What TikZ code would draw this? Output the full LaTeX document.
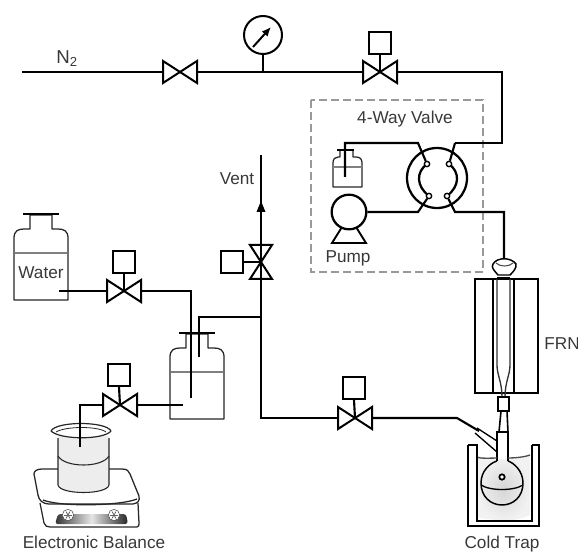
\documentclass[tikz,border=0pt]{standalone}
\usepackage{fontspec}
\setmainfont{Liberation Sans}
\usetikzlibrary{arrows.meta,calc}
\definecolor{txt}{gray}{0.22}
\tikzset{
  pipe/.style={line width=1.6pt,black,line join=miter},
  thin outline/.style={line width=0.95pt,black!85,line join=round},
  liquid/.style={line width=1.1pt,black!50},
  label/.style={text=txt,font=\fontsize{12.9pt}{14pt}\selectfont,inner sep=0pt},
  ctrl/.style={draw,line width=1.4pt,minimum width=16.5pt,minimum height=16.5pt,inner sep=0pt,fill=white},
  port/.style={draw,circle,line width=1pt,fill=white,minimum size=4pt,inner sep=0pt},
  valvebody/.pic={
    \draw[line width=1.5pt,fill=white,line join=miter] (-17,-11) -- (17,11) -- (17,-11) -- (-17,11) -- cycle;
    \coordinate (-l) at (-17,0);
    \coordinate (-r) at (17,0);
    \coordinate (-c) at (0,0);
  },
  jar/.pic={
    \draw[thin outline,fill=white] (-27,0) -- (-27,-62) .. controls (-27,-69) and (-23,-71) .. (-17,-71) -- (-11,-71) -- (-11,-85) -- (11,-85) -- (11,-71) -- (17,-71) .. controls (23,-71) and (27,-69) .. (27,-62) -- (27,0) -- cycle;
    \draw[liquid] (-26,-47) -- (26,-47);
    \draw[pipe] (-18,-86) -- (18,-86);
  },
}
\begin{document}
\begin{tikzpicture}[x=0.75pt,y=-0.75pt]
\useasboundingbox (0,0) rectangle (578,552);

% dashed box
\draw[line width=1.5pt,black!40,dash pattern=on 6pt off 3pt] (311,100) rectangle (483,272);

% cold bath
\shade[inner color=black!16,outer color=black!5] (477,456) -- (477,517) .. controls (500,522) and (515,522) .. (530,515) -- (530,456) .. controls (515,460) and (490,460) .. (477,456);

% jars
\pic at (41,300) {jar};
\pic at (197,419) {jar};

% valves
\pic (vA) at (180,72) {valvebody};
\pic (vB) at (380,72) {valvebody};
\pic (vC) at (124,291) {valvebody};
\pic (vD) at (120,405) {valvebody};
\pic (vE) at (355,418) {valvebody};
\pic[rotate=90,scale=1] (vF) at (261,262) {valvebody};

% actuator boxes
\node[ctrl] (bB) at (380,43) {};
\node[ctrl] (bC) at (124,262) {};
\node[ctrl] (bD) at (119,375) {};
\node[ctrl] (bE) at (354,388) {};
\node[ctrl] (bF) at (232,262) {};
\draw[pipe] (bB.south) -- (vB-c);
\draw[pipe] (bC.south) -- (vC-c);
\draw[pipe] (bD.south) -- (vD-c);
\draw[pipe] (bE.south) -- (vE-c);
\draw[pipe] (bF.east) -- (vF-c);

% gauge
\node[draw,circle,line width=1.5pt,minimum size=28.5pt,inner sep=0pt] (gauge) at (263,35) {};
\coordinate (gA) at (253,47);
\coordinate (gB) at (271,27);
\draw[line width=1.5pt,-{Latex[length=7pt,width=6pt]}] (gA) -- (gB);
\coordinate (jG) at (263,72);
\draw[pipe] (gauge.south) -- (jG);

% N2 feed
\coordinate (n2) at (22,72);
\draw[pipe] (n2) -- (vA-l);
\draw[pipe] (vA-r) -- (vB-l);
\coordinate (c1) at (502,72);
\coordinate (c2) at (502,143);
\coordinate (pTR) at (455,143);
\draw[pipe] (vB-r) -- (c1) -- (c2) -- (pTR);

% four-way valve
\node[draw,circle,line width=1.7pt,minimum size=45pt,inner sep=0pt] (fw) at (437,178) {};
\draw[line width=1.7pt] (427,164) .. controls (416,172) and (416,186) .. (429,196);
\draw[line width=1.7pt] (449,164) .. controls (460,172) and (460,186) .. (447,196);
\node[port] (p1) at (427,164) {};
\node[port] (p2) at (449,164) {};
\node[port] (p3) at (429,196) {};
\node[port] (p4) at (447,196) {};
\draw[pipe] (pTR) -- (p2);
\coordinate (pTL) at (418,143);
\coordinate (pBL) at (418,212);
\coordinate (pBR) at (455,212);
\coordinate (o1) at (504,212);
\coordinate (o2) at (504,258);
\draw[pipe] (p4) -- (pBR) -- (o1) -- (o2);

% small bottle
\draw[thin outline] (333,187) -- (333,163) .. controls (333,159) and (335,157) .. (338,157) -- (340,157) -- (340,150) -- (353,150) -- (353,157) -- (356,157) .. controls (360,157) and (362,159) .. (362,163) -- (362,187) -- cycle;
\draw[liquid] (333,167) -- (362,167);
\draw[line width=1.2pt] (337,150) -- (354,150);
\coordinate (b1) at (345,177);
\coordinate (b2) at (345,143);
\draw[pipe] (b1) -- (b2) -- (pTL) -- (p1);

% pump
\node[draw,circle,line width=1.7pt,minimum size=26pt,inner sep=0pt] (pump) at (349,212) {};
\coordinate (t1) at (342,227);
\coordinate (t2) at (332,243);
\coordinate (t3) at (366,243);
\coordinate (t4) at (356,227);
\draw[line width=1.4pt,line join=miter] (t1) -- (t2) -- (t3) -- (t4);
\draw[pipe] (pump.east) -- (pBL) -- (p3);

% vent
\coordinate (ventTop) at (261,155);
\coordinate (j1) at (261,317);
\coordinate (j2) at (261,418);
\draw[pipe] (ventTop) -- (vF-l);
\draw[fill=black,draw=none] (261,201) -- (265.5,212) -- (256.5,212) -- cycle;
\draw[pipe] (vF-r) -- (j1) -- (j2) -- (vE-l);
\coordinate (j3) at (199,317);
\coordinate (j4) at (199,357);
\draw[pipe] (j1) -- (j3) -- (j4);

% water lines
\coordinate (w1) at (59,291);
\coordinate (w2) at (191,291);
\coordinate (w3) at (191,398);
\draw[pipe] (w1) -- (vC-l);
\draw[pipe] (vC-r) -- (w2) -- (w3);

% beaker & balance
\draw[thin outline,fill=white] (34,474) .. controls (34,471) and (37,469) .. (42,469) -- (122,469) .. controls (127,469) and (129,471) .. (130,474) -- (139,496) .. controls (140,501) and (138,503) .. (133,504) -- (50,504) .. controls (42,504) and (39,500) .. (38,495) -- cycle;
\draw[thin outline] (40,503) -- (44,523) .. controls (45,526) and (47,527) .. (50,527) -- (137,527) .. controls (139,527) and (139,525) .. (139,523) -- (138,503);
\draw[thin outline] (43,500) .. controls (60,507) and (120,506) .. (137,499);
\shade[left color=black!80,right color=black!85,middle color=black!10,rounded corners=2pt] (55,524) -- (58,514) -- (126,514) -- (128,524) -- cycle;
\foreach \kx/\kn in {68/ka,114/kb}{
  \node[draw=black!70,circle,fill=white,minimum size=8.5pt,inner sep=0pt] (\kn) at (\kx,515) {};
  \foreach \a in {0,60,120}{\draw[black!60,line width=.6pt] (\kx,515) ++(\a:4) -- ++(\a+180:8);}
}
\fill[black!7] (58,436) -- (58,485) .. controls (60,495) and (105,495) .. (109,485) -- (109,436) -- cycle;
\draw[thin outline,line width=.8pt] (58,438) -- (58,485) .. controls (60,495) and (107,495) .. (109,485) -- (109,438);
\draw[thin outline,line width=.8pt] (58,456) .. controls (65,468) and (102,468) .. (109,456);
\draw[thin outline,line width=.9pt,fill=white] (51,431) .. controls (56,421) and (106,421) .. (111,431) .. controls (104,440) and (60,440) .. (51,431);
\draw[thin outline,line width=.6pt] (56,432) .. controls (66,426) and (98,426) .. (106,432);
\coordinate (d1) at (183,405);
\coordinate (d2) at (80,405);
\coordinate (d3) at (80,447);
\draw[pipe] (d1) -- (vD-r);
\draw[pipe] (vD-l) -- (d2) -- (d3);

% furnace
\node[draw,line width=1.3pt,minimum width=47pt,minimum height=85.5pt,inner sep=0pt] (frn) at (506.5,336) {};
\draw[line width=1.1pt] (493,279) -- (493,393) (514,279) -- (514,393);
\draw[line width=1pt,black!80] (497,279) -- (497,365) .. controls (497,375) and (502,382) .. (502,397)
  (510,279) -- (510,365) .. controls (510,375) and (505,382) .. (505,397);
% stopper
\draw[line width=1.1pt,fill=white] (498,275) .. controls (494,270) and (491,268) .. (493,264) .. controls (497,257) and (511,257) .. (516,264) .. controls (517,268) and (513,272) .. (510,275) -- cycle;
\draw[line width=.8pt,black!70] (496,263) .. controls (500,267) and (509,267) .. (513,263);
\draw[line width=1pt] (497,278) -- (510,278);

% connector
\node[draw,line width=1.1pt,minimum width=8.5pt,minimum height=10.5pt,inner sep=0pt] (joint) at (503.5,404) {};
% flask
\draw[line width=1.2pt] (501,411) -- (499,432) (507,411) -- (508,432);
\draw[line width=1.1pt] (497,461) -- (497,432) -- (508,432) -- (508,461);
\draw[line width=2.2pt] (497,432) -- (508,432);
\draw[line width=1.1pt] (497,461) .. controls (490,463) and (481,471) .. (481,483) .. controls (481,497) and (491,505) .. (502,505) .. controls (513,505) and (523,497) .. (523,483) .. controls (523,471) and (514,463) .. (508,461);
\draw[line width=1pt] (481,485) .. controls (490,491) and (514,491) .. (523,485);
\node[draw,circle,line width=1.3pt,minimum size=4pt,inner sep=0pt,fill=white] (dot) at (502,477) {};
\draw[line width=1pt] (497,441) -- (477,428) (497,452) -- (475,433);
\draw[line width=1pt,black!70] (476,457) .. controls (482,459) and (490,458) .. (497,458);
\draw[line width=1pt,black!70] (508,458) .. controls (515,458) and (525,457) .. (530,455);

% trap vessel
\draw[line width=1.2pt] (468,445) -- (468,526) -- (539,526) -- (539,445) -- (532,445);
\draw[line width=.9pt] (468,445) -- (477,445) -- (477,521) -- (532,521) -- (532,445);

% outlet line to trap
\coordinate (e1) at (457,418);
\coordinate (e2) at (479,431);
\draw[pipe] (vE-r) -- (e1) -- (e2);

% labels
\node[label,anchor=center,font=\fontsize{14pt}{16pt}\selectfont] (lN) at (67,59) {N\textsubscript{2}};
\node[label] (lV) at (405,119) {4-Way Valve};
\node[label] (lP) at (348,258) {Pump};
\node[label] (lVent) at (237,179) {Vent};
\node[label] (lW) at (41,273) {Water};
\node[label] (lF) at (562,344) {FRN};
\node[label] (lE) at (94,542) {Electronic Balance};
\node[label] (lC) at (502,544) {Cold Trap};
\end{tikzpicture}
\end{document}
